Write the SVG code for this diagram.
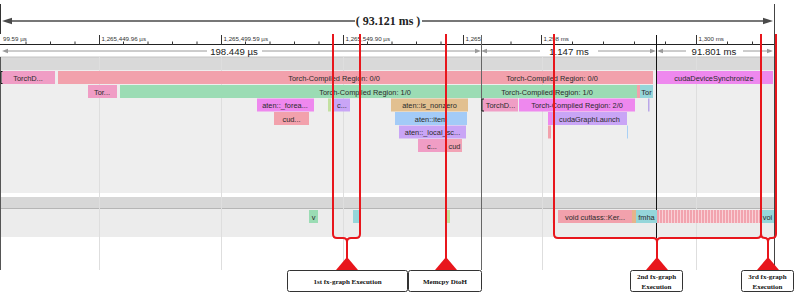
<svg xmlns="http://www.w3.org/2000/svg" width="797" height="293" viewBox="0 0 797 293">
<style>
.lbl{font-family:"Liberation Sans",Arial,sans-serif;font-size:7.4px;fill:#2a2a2a;text-anchor:middle}
.rl{font-family:"Liberation Sans",Arial,sans-serif;font-size:6.2px;fill:#333}
.ms{font-family:"Liberation Sans",Arial,sans-serif;font-size:9.6px;fill:#222;text-anchor:middle}
.big{font-family:"Liberation Serif","Times New Roman",serif;font-size:12px;font-weight:bold;fill:#222;text-anchor:middle}
.bt{font-family:"Liberation Serif","Times New Roman",serif;font-size:7px;font-weight:bold;fill:#111;text-anchor:middle}
.box{fill:#fff;stroke:#333;stroke-width:1}
.red{fill:none;stroke:#e8161c;stroke-width:2}
.tri{fill:#e8161c}
.grid{stroke:#dedede;stroke-width:1}
.mline{stroke:#9a9a9a;stroke-width:1}
.mhead{fill:#9a9a9a}
.tick{stroke:#333;stroke-width:1}
.salmon{fill:#f2a1ac}
.pink{fill:#f09dc5}
.green{fill:#9bdcb4}
.mag{fill:#ee88ee}
.purp{fill:#c9a5f6}
.tan{fill:#e2c090}
.blue{fill:#a3cbf7}
.teal{fill:#95d6da}
</style>
<defs>
<pattern id="stripes" width="3" height="13" patternUnits="userSpaceOnUse">
<rect width="3" height="13" fill="#f2a3ae"/>
<rect x="2" width="1" height="13" fill="#f9d0d6"/>
</pattern>
</defs>

<!-- background -->
<rect width="797" height="293" fill="#ffffff"/>
<rect x="0" y="57" width="775" height="13" fill="#d9d9d9"/>
<line x1="0" y1="57" x2="775" y2="57" stroke="#c4c4c4"/>
<rect x="0" y="70" width="775" height="123" fill="#eeeeee"/>
<rect x="0" y="197" width="775" height="12" fill="#d7d7d7"/>
<line x1="0" y1="208.5" x2="775" y2="208.5" stroke="#b5b5b5"/>
<rect x="0" y="209" width="775" height="28" fill="#ececec"/>

<!-- grid lines -->
<g id="grid">
<line class="grid" x1="99.5" y1="57" x2="99.5" y2="270"/>
<line class="grid" x1="221.5" y1="57" x2="221.5" y2="270"/>
<line class="grid" x1="343.5" y1="57" x2="343.5" y2="270"/>
<line class="grid" x1="542.5" y1="57" x2="542.5" y2="270"/>
<line class="grid" x1="696.5" y1="57" x2="696.5" y2="270"/>
</g>

<!-- top total arrow -->
<g id="total">
<line x1="0.5" y1="4" x2="0.5" y2="34" stroke="#333"/>
<line x1="10" y1="21" x2="355" y2="21" stroke="#4a4a4a" stroke-width="1.6"/>
<line x1="422" y1="21" x2="765" y2="21" stroke="#4a4a4a" stroke-width="1.6"/>
<polygon points="2,21 12,17.8 12,24.2" fill="#4a4a4a"/>
<polygon points="773,21 763,17.8 763,24.2" fill="#4a4a4a"/>
<text class="big" x="388" y="25">( 93.121 ms )</text>
</g>

<!-- ruler -->
<g id="ruler">
<line x1="0" y1="44.5" x2="775" y2="44.5" stroke="#222"/>
<line class="tick" x1="99.5" y1="35" x2="99.5" y2="45"/>
<line class="tick" x1="221.5" y1="35" x2="221.5" y2="45"/>
<line class="tick" x1="343.5" y1="35" x2="343.5" y2="45"/>
<line class="tick" x1="463.5" y1="35" x2="463.5" y2="45"/>
<line class="tick" x1="541.5" y1="35" x2="541.5" y2="45"/>
<line class="tick" x1="696.5" y1="35" x2="696.5" y2="45"/>
<path class="tick" d="M26 41.5V45M50.5 41.5V45M75 41.5V45M123.5 41.5V45M148 41.5V45M172.5 41.5V45M197 41.5V45M245.5 41.5V45M270 41.5V45M294.5 41.5V45M319 41.5V45M367.5 41.5V45M392 41.5V45M416.5 41.5V45M441 41.5V45M511 41.5V45M572.5 41.5V45M603.5 41.5V45M634.5 41.5V45M665.5 41.5V45M727.5 41.5V45M752.5 41.5V45"/>
<text class="rl" x="3" y="40.5">99.59 µs</text>
<text class="rl" x="101.5" y="40.5">1,265,449.96 µs</text>
<text class="rl" x="223.5" y="40.5">1,265,499.59 µs</text>
<text class="rl" x="345.5" y="40.5">1,265,549.90 µs</text>
<text class="rl" x="465.5" y="40.5">1,265</text>
<text class="rl" x="543.5" y="40.5">1,298 ms</text>
<text class="rl" x="698.5" y="40.5">1,300 ms</text>
</g>

<!-- measurement row -->
<g id="measure">
<polygon class="mhead" points="2,51 8,48.8 8,53.2"/>
<line class="mline" x1="8" y1="51" x2="207" y2="51"/>
<text class="ms" x="234" y="54.5">198.449 µs</text>
<line class="mline" x1="262" y1="51" x2="475" y2="51"/>
<polygon class="mhead" points="481,51 475,48.8 475,53.2"/>
<polygon class="mhead" points="481,51 487,48.8 487,53.2"/>
<line class="mline" x1="487" y1="51" x2="540" y2="51"/>
<text class="ms" x="569" y="54.5">1.147 ms</text>
<line class="mline" x1="598" y1="51" x2="650" y2="51"/>
<polygon class="mhead" points="656,51 650,48.8 650,53.2"/>
<polygon class="mhead" points="657,51 663,48.8 663,53.2"/>
<line class="mline" x1="663" y1="51" x2="686" y2="51"/>
<text class="ms" x="714" y="54.5">91.801 ms</text>
<line class="mline" x1="743" y1="51" x2="767" y2="51"/>
<polygon class="mhead" points="773,51 767,48.8 767,53.2"/>
</g>

<!-- vertical markers -->
<g id="markers">
<line x1="0.5" y1="57" x2="0.5" y2="270" stroke="#555"/>
<line x1="481.5" y1="35" x2="481.5" y2="270" stroke="#666"/>
<line x1="656.5" y1="35" x2="656.5" y2="238" stroke="#111"/>
<line x1="774.5" y1="4" x2="774.5" y2="270" stroke="#444"/>
</g>

<!-- CPU track slices -->
<g id="cpu-track">
<rect class="pink" x="2" y="71" width="53" height="13"/>
<text class="lbl" x="28" y="80.5">TorchD...</text>
<path d="M2.5 71.5H1V83.5H2.5" fill="none" stroke="#111"/>
<rect class="salmon" x="58" y="71" width="423" height="13"/>
<text class="lbl" x="334" y="80.5">Torch-Compiled Region: 0/0</text>
<rect class="salmon" x="482" y="71" width="171" height="13"/>
<text class="lbl" x="552" y="80.5">Torch-Compiled Region: 0/0</text>
<rect class="mag" x="657" y="71" width="116" height="13"/>
<text class="lbl" x="714" y="80.5">cudaDeviceSynchronize</text>

<rect class="pink" x="88" y="85" width="29" height="13"/>
<text class="lbl" x="102" y="94.5">Tor...</text>
<rect class="green" x="120" y="85" width="361" height="13"/>
<text class="lbl" x="365" y="94.5">Torch-Compiled Region: 1/0</text>
<rect class="green" x="482" y="85" width="155" height="13"/>
<text class="lbl" x="547" y="94.5">Torch-Compiled Region: 1/0</text>
<rect class="salmon" x="637" y="85" width="3" height="13"/>
<rect class="teal" x="640" y="85" width="13" height="13"/>
<text class="lbl" x="646.5" y="94.5">Tor</text>

<rect class="mag" x="257" y="98.5" width="57" height="13"/>
<text class="lbl" x="285" y="108">aten::_forea...</text>
<rect x="328" y="98.5" width="3" height="13" fill="#c3e0a0"/>
<rect class="purp" x="334" y="98.5" width="16" height="13"/>
<text class="lbl" x="342" y="108">c...</text>
<rect class="tan" x="391" y="98.5" width="77" height="13"/>
<text class="lbl" x="429.5" y="108">aten::is_nonzero</text>
<rect class="pink" x="483" y="98.5" width="35" height="13"/>
<text class="lbl" x="500.5" y="108">TorchD...</text>
<path d="M484 99H482V111H484" fill="none" stroke="#111"/>
<rect class="mag" x="519" y="98.5" width="116" height="13"/>
<text class="lbl" x="577" y="108">Torch-Compiled Region: 2/0</text>
<rect x="648" y="98.5" width="1.5" height="13" fill="#b9a6e8"/>

<rect class="salmon" x="274" y="112" width="35" height="13"/>
<text class="lbl" x="291.5" y="121.5">cud...</text>
<rect class="blue" x="395" y="112" width="72" height="13"/>
<text class="lbl" x="431" y="121.5">aten::item</text>
<rect class="mag" x="548" y="112" width="4" height="13"/>
<rect class="purp" x="552" y="112" width="75" height="13"/>
<text class="lbl" x="589.5" y="121.5">cudaGraphLaunch</text>

<rect class="purp" x="399" y="125.5" width="67" height="13"/>
<text class="lbl" x="432.5" y="135">aten::_local_sc...</text>
<rect class="salmon" x="548" y="125.5" width="3" height="13"/>
<rect x="627" y="125.5" width="1" height="13" fill="#a9d0f5"/>

<rect class="pink" x="418" y="139" width="28" height="13"/>
<text class="lbl" x="432" y="148.5">c...</text>
<rect fill="#f2a3b5" x="447" y="139" width="15" height="13"/>
<text class="lbl" x="454.5" y="148.5">cud</text>
</g>

<!-- GPU track slices -->
<g id="gpu-track">
<rect class="green" x="309" y="210" width="9" height="13"/>
<text class="lbl" x="313.5" y="219.5">v</text>
<rect class="teal" x="353" y="210" width="6" height="13"/>
<rect x="447" y="210" width="3" height="13" fill="#c3e09a"/>
<rect x="552" y="210" width="1" height="13" fill="#e4e4e4"/>
<rect class="salmon" x="558" y="210" width="74" height="13"/>
<text class="lbl" x="595" y="219.5">void cutlass::Ker...</text>
<rect x="632" y="210" width="4" height="13" fill="#e6b48a"/>
<rect class="teal" x="636" y="210" width="21" height="13"/>
<text class="lbl" x="646.5" y="219.5">fmha</text>
<rect x="657" y="210" width="104" height="13" fill="url(#stripes)"/>
<rect class="teal" x="761" y="210" width="13" height="13"/>
<text class="lbl" x="767.5" y="219.5">voi</text>
</g>

<!-- connectors (red brackets) -->
<g id="connectors">
<path class="red" d="M333 34V234Q333 238 337 238H343Q347 238 347 242V262"/>
<path class="red" d="M360 34V234Q360 238 356 238H351Q347 238 347 242"/>
<path class="red" d="M446 34V262"/>
<path class="red" d="M554 34V234Q554 238 558 238H653Q657 238 657 242V262"/>
<path class="red" d="M761 34V234Q761 238 757 238H661Q657 238 657 242"/>
<path class="red" d="M761 234Q761 238 765 238H765Q768 238 768 242V262"/>
<path class="red" d="M776 34V234Q776 238 772 238H771Q768 238 768 242"/>
<polygon class="tri" points="347,257 336,270 358,270"/>
<polygon class="tri" points="446,257 435,270 457,270"/>
<polygon class="tri" points="657,257 646,270 668,270"/>
<polygon class="tri" points="768,257 757,270 779,270"/>
</g>

<!-- annotation nodes -->
<g id="note-1st">
<rect class="box" x="287.5" y="270.5" width="120" height="21" rx="2"/>
<text class="bt" x="347.5" y="283.5">1st fx-graph Execution</text>
</g>
<g id="note-memcpy">
<rect class="box" x="408.5" y="270.5" width="73" height="21" rx="2"/>
<text class="bt" x="445" y="283.5">Memcpy DtoH</text>
</g>
<g id="note-2nd">
<rect class="box" x="630.5" y="270.5" width="52" height="21" rx="2"/>
<text class="bt" x="656.5" y="279">2nd fx-graph</text>
<text class="bt" x="656.5" y="289">Execution</text>
</g>
<g id="note-3rd">
<rect class="box" x="741.5" y="270.5" width="52" height="21" rx="2"/>
<text class="bt" x="767.5" y="279">3rd fx-graph</text>
<text class="bt" x="767.5" y="289">Execution</text>
</g>
</svg>
